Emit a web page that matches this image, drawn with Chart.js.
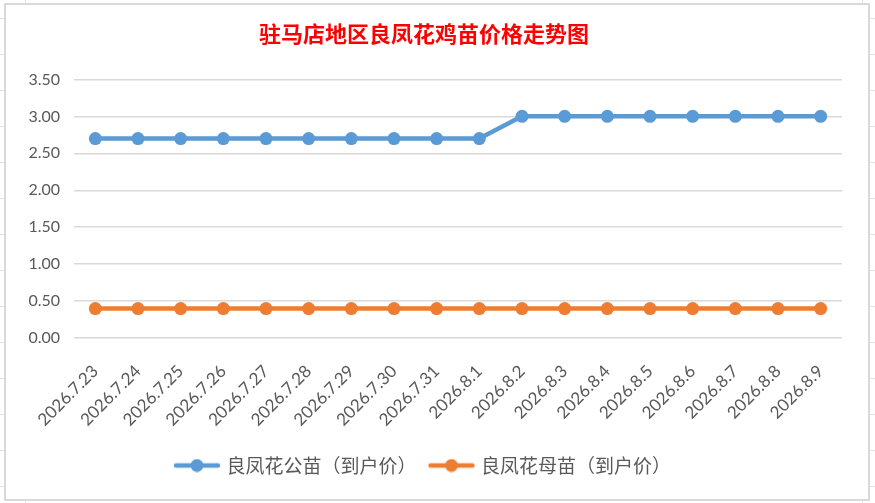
<!DOCTYPE html>
<html>
<head>
<meta charset="utf-8">
<script src="https://cdn.jsdelivr.net/npm/chart.js@4.4.0/dist/chart.umd.min.js"></script>
<style>
html, body { margin: 0; padding: 0; }
body {
    width: 875px; height: 503px; overflow: hidden; position: relative;
    background-color: #fff;
    background-image:
        linear-gradient(to right, transparent 25px, #e2e2e2 25px, #e2e2e2 26px, transparent 26px, transparent 862px, #e2e2e2 862px, #e2e2e2 863px, transparent 863px),
        linear-gradient(#e2e2e2 1px, transparent 1px);
    background-size: 100% 100%, 100% 36px;
    background-position: 0 0, 0 18px;
    background-repeat: no-repeat, repeat;
}
#box {
    position: absolute; left: 4px; top: 3px;
    width: 862px; height: 494px;
    border: 2px solid #d9d9d9; background: #fff;
}
</style>
</head>
<body>
<div id="box"><canvas id="price-chart" width="862" height="494"></canvas></div>
<script>
const dates = ['2026.7.23', '2026.7.24', '2026.7.25', '2026.7.26', '2026.7.27', '2026.7.28',
    '2026.7.29', '2026.7.30', '2026.7.31', '2026.8.1', '2026.8.2', '2026.8.3',
    '2026.8.4', '2026.8.5', '2026.8.6', '2026.8.7', '2026.8.8', '2026.8.9'];
const roosterPrice = [2.7, 2.7, 2.7, 2.7, 2.7, 2.7, 2.7, 2.7, 2.7, 2.7, 3.0, 3.0, 3.0, 3.0, 3.0, 3.0, 3.0, 3.0];
const henPrice = [0.4, 0.4, 0.4, 0.4, 0.4, 0.4, 0.4, 0.4, 0.4, 0.4, 0.4, 0.4, 0.4, 0.4, 0.4, 0.4, 0.4, 0.4];
const seriesNames = ['良凤花公苗（到户价）', '良凤花母苗（到户价）'];
const yTicks = [0, 0.5, 1, 1.5, 2, 2.5, 3, 3.5];

const BLUE = '#5b9bd5';
const ORANGE = '#ed7d31';

// legend marker: short line with a dot in the middle
function legendMarker(color) {
    const c = document.createElement('canvas');
    c.width = 48;
    c.height = 14;
    const g = c.getContext('2d');
    g.strokeStyle = color;
    g.lineWidth = 4.5;
    g.lineCap = 'round';
    g.beginPath();
    g.moveTo(3, 7);
    g.lineTo(45, 7);
    g.stroke();
    g.fillStyle = color;
    g.beginPath();
    g.arc(24, 7, 6.5, 0, Math.PI * 2);
    g.fill();
    return c;
}

const markers = [legendMarker(BLUE), legendMarker(ORANGE)];

function makeDataset(label, data, color) {
    return {
        label: label,
        data: data,
        borderColor: color,
        backgroundColor: color,
        borderWidth: 4.5,
        pointRadius: 6.5,
        pointBorderWidth: 0,
        pointBackgroundColor: color,
        tension: 0
    };
}

const ctx = document.getElementById('price-chart').getContext('2d');
new Chart(ctx, {
    type: 'line',
    data: {
        labels: dates,
        datasets: [
            makeDataset(seriesNames[0], roosterPrice, BLUE),
            makeDataset(seriesNames[1], henPrice, ORANGE)
        ]
    },
    options: {
        responsive: false,
        animation: false,
        layout: { padding: { left: 0, right: 26, top: 0, bottom: 14 } },
        plugins: {
            title: {
                display: true,
                text: '驻马店地区良凤花鸡苗价格走势图',
                color: '#ff0000',
                font: { family: '"Noto Sans CJK SC"', size: 22, weight: 'bold' },
                padding: { top: 15, bottom: 33 }
            },
            legend: {
                position: 'bottom',
                labels: {
                    usePointStyle: true,
                    pointStyleWidth: 40,
                    boxHeight: 14,
                    padding: 15,
                    color: '#595959',
                    font: { family: '"Noto Sans CJK SC"', size: 19 },
                    generateLabels: function(chart) {
                        const items = Chart.defaults.plugins.legend.labels.generateLabels(chart);
                        items.forEach((item, i) => { item.pointStyle = markers[i]; });
                        return items;
                    }
                }
            },
            tooltip: { enabled: false }
        },
        scales: {
            x: {
                offset: true,
                afterFit: function(scale) { scale.height -= 4; },
                grid: { display: false },
                border: { display: false },
                ticks: {
                    autoSkip: false,
                    minRotation: 45,
                    maxRotation: 45,
                    padding: 15,
                    color: '#595959',
                    font: { family: 'Lato', size: 17 }
                }
            },
            y: {
                min: 0,
                max: 3.5,
                afterFit: function(scale) { scale.width = 68; },
                afterBuildTicks: function(scale) { scale.ticks = yTicks.map(v => ({ value: v })); },
                grid: { color: '#d9d9d9', lineWidth: 1.5, drawTicks: false },
                border: { display: false },
                ticks: {
                    padding: 14,
                    color: '#595959',
                    font: { family: 'Lato', size: 16 },
                    callback: value => value.toFixed(2)
                }
            }
        }
    }
});
</script>
</body>
</html>
